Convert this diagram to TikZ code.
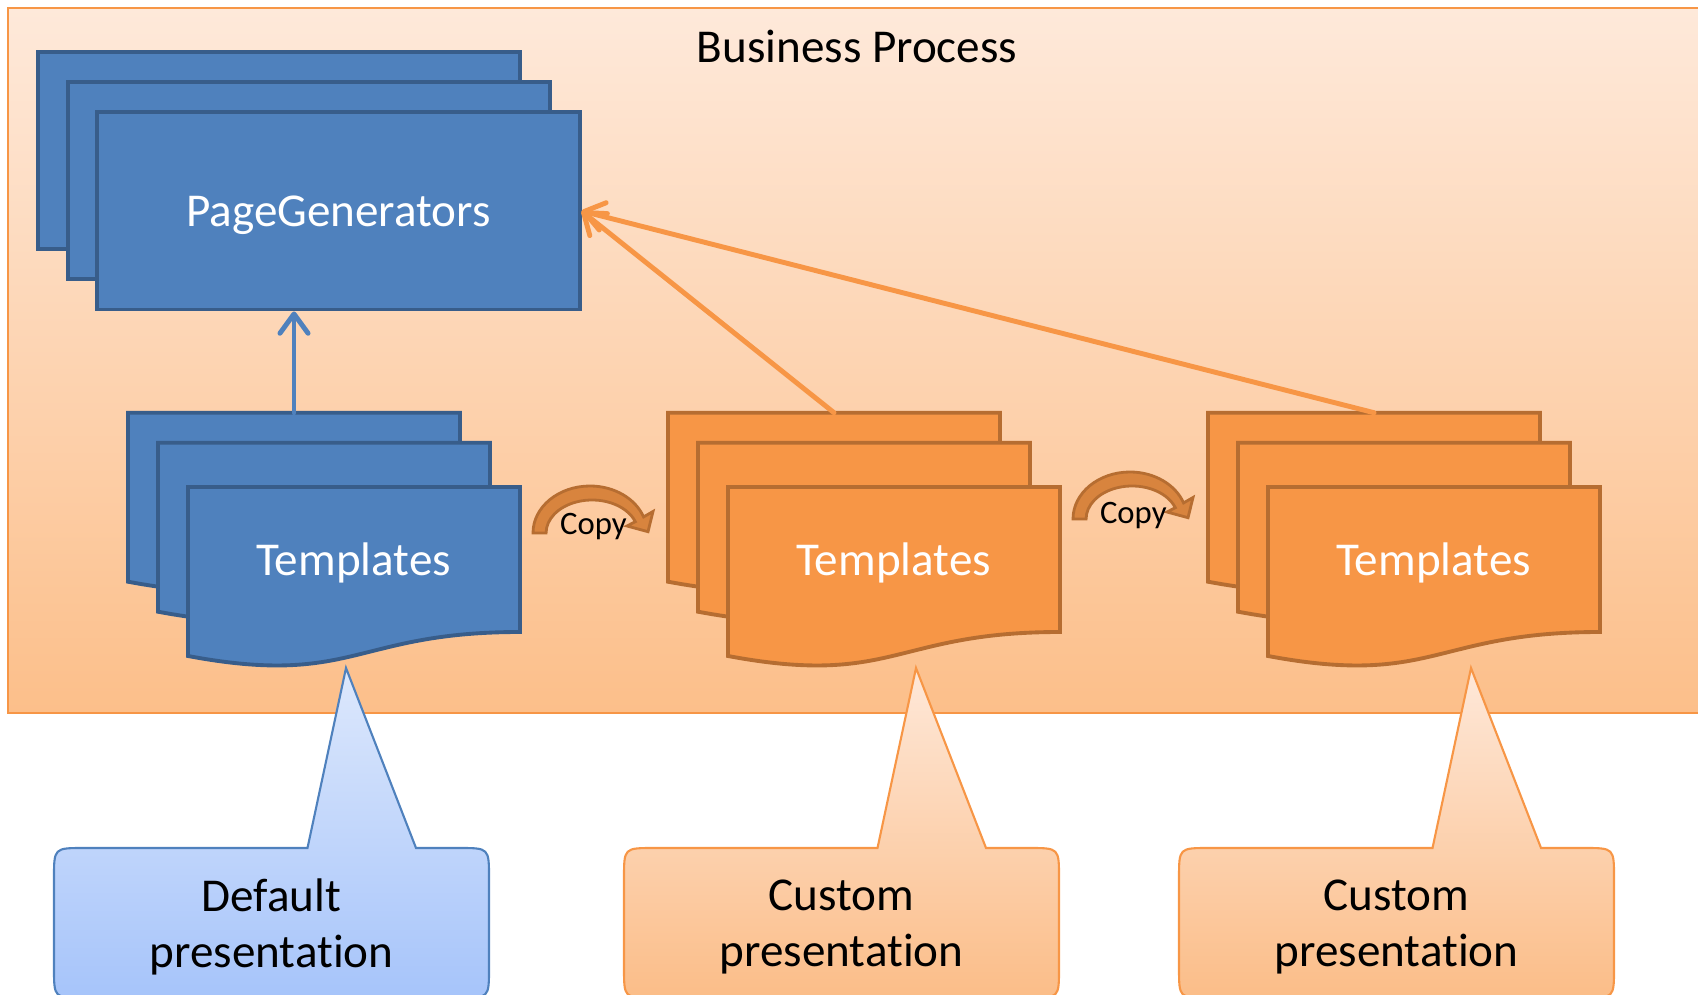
\documentclass[tikz,border=0pt]{standalone}
\usepackage{fontspec}
\setmainfont{Carlito}[Ligatures=NoCommon]
\usetikzlibrary{arrows.meta,positioning}

\definecolor{docblue}{HTML}{4F81BD}
\definecolor{docblueline}{HTML}{385D8A}
\definecolor{docorange}{HTML}{F79646}
\definecolor{docorangeline}{HTML}{B66D31}
\definecolor{bgtop}{HTML}{FEE9DA}
\definecolor{bgbottom}{HTML}{FCBF8A}
\definecolor{noteblue1}{HTML}{DDE8FC}
\definecolor{noteblue2}{HTML}{A6C4FA}
\definecolor{noteorange1}{HTML}{FEE8D9}
\definecolor{noteorange2}{HTML}{FBBD88}
\definecolor{copyfill}{HTML}{D8843E}

\tikzset{
  bigfont/.style={font=\fontsize{13.4}{16.1}\selectfont},
  pgpage/.style={rectangle, fill=docblue, draw=docblueline, line width=1.1pt,
    minimum width=4.82cm, minimum height=1.97cm, text=white, text depth=0pt, bigfont},
  doc/.style 2 args={fill=#1, draw=#2, line width=1.1pt},
  pagetext/.style={text=white, bigfont, anchor=base},
  link/.style={draw=#1, line width=1.4pt, line cap=round,
    -{Straight Barb[length=5.5pt,width=8pt,round]}},
  copytext/.style={font=\fontsize{9.3}{11}\selectfont, anchor=base},
  notetext/.style={bigfont, align=center},
  bluenote/.style={top color=noteblue1, bottom color=noteblue2, draw=docblue, line width=0.6pt},
  orangenote/.style={top color=noteorange1, bottom color=noteorange2, draw=docorange, line width=0.6pt},
  pics/docpage/.style={code={
    \path[pic actions] (0,0) -- (332,0) -- (332,145)
      .. controls (166,145) and (166,200) .. (0,169) -- cycle;
  }},
  pics/copyarrow/.style={code={
    \path[pic actions] (-57,0) arc[start angle=180, end angle=340, x radius=57, y radius=47]
      -- (63,-21.5) -- (58,-1.3) -- (37,-7) -- (45.3,-11.3)
      arc[start angle=340, end angle=180, x radius=46, y radius=33] -- cycle;
  }},
  pics/note/.style={code={
    \path[pic actions] (36,0) -- (74.5,-180) -- (144.5,0) -- (187.5,0)
      .. controls (217.5,0) .. (217.5,30) -- (217.5,120)
      .. controls (217.5,150) .. (187.5,150) -- (-187.5,150)
      .. controls (-217.5,150) .. (-217.5,120) -- (-217.5,30)
      .. controls (-217.5,0) .. (-187.5,0) -- cycle;
  }},
}

\begin{document}
\begin{tikzpicture}[x=0.01cm, y=-0.01cm]
  \useasboundingbox (0,0) rectangle (1698,995);

  % business process frame
  \path[top color=bgtop, bottom color=bgbottom, draw=docorange, line width=0.6pt]
    (8,8) rectangle (1710,712.7);
  \node[bigfont, anchor=base] (bp) at (857,63) {Business Process};

  % page generators
  \node[pgpage] (pgback) at (279,150.5) {};
  \node[pgpage] (pgmid) at (309,180.5) {};
  \node[pgpage] (pgfront) at (338.5,211) {PageGenerators};

  % default templates
  \pic[doc={docblue}{docblueline}] at (128,412.7) {docpage};
  \pic[doc={docblue}{docblueline}] at (158,442.7) {docpage};
  \pic[doc={docblue}{docblueline}] at (188,487) {docpage};
  \coordinate (tpl1top) at (294,412.7);
  \node[pagetext] (tpl1) at (353.5,576) {Templates};

  % custom templates
  \pic[doc={docorange}{docorangeline}] at (668,412.7) {docpage};
  \pic[doc={docorange}{docorangeline}] at (698,442.7) {docpage};
  \pic[doc={docorange}{docorangeline}] at (728,487) {docpage};
  \coordinate (tpl2top) at (834,412.7);
  \node[pagetext] (tpl2) at (893.5,576) {Templates};

  \pic[doc={docorange}{docorangeline}] at (1208,412.7) {docpage};
  \pic[doc={docorange}{docorangeline}] at (1238,442.7) {docpage};
  \pic[doc={docorange}{docorangeline}] at (1268,487) {docpage};
  \coordinate (tpl3top) at (1374,412.7);
  \node[pagetext] (tpl3) at (1433.5,576) {Templates};

  % copy steps
  \pic[fill=copyfill, draw=docorangeline, line width=0.8pt] at (590,533) {copyarrow};
  \node[copytext] (copy1) at (593.4,535) {Copy};
  \pic[fill=copyfill, draw=docorangeline, line width=0.8pt] at (1130,519) {copyarrow};
  \node[copytext] (copy2) at (1133.3,523.3) {Copy};

  % links
  \draw[link=docblue] (tpl1top) -- (tpl1top |- pgfront.south);
  \draw[link=docorange] (tpl2top) -- (pgfront.east);
  \draw[link=docorange] (tpl3top) -- (pgfront.east);

  % callouts
  \pic[bluenote] at (271.5,848) {note};
  \node[notetext] (default) at (271.5,927) {Default\\presentation};
  \pic[orangenote] at (841.5,848) {note};
  \node[notetext] (custom1) at (841.5,927) {Custom\\presentation};
  \pic[orangenote] at (1396.5,848) {note};
  \node[notetext] (custom2) at (1396.5,927) {Custom\\presentation};
\end{tikzpicture}
\end{document}
